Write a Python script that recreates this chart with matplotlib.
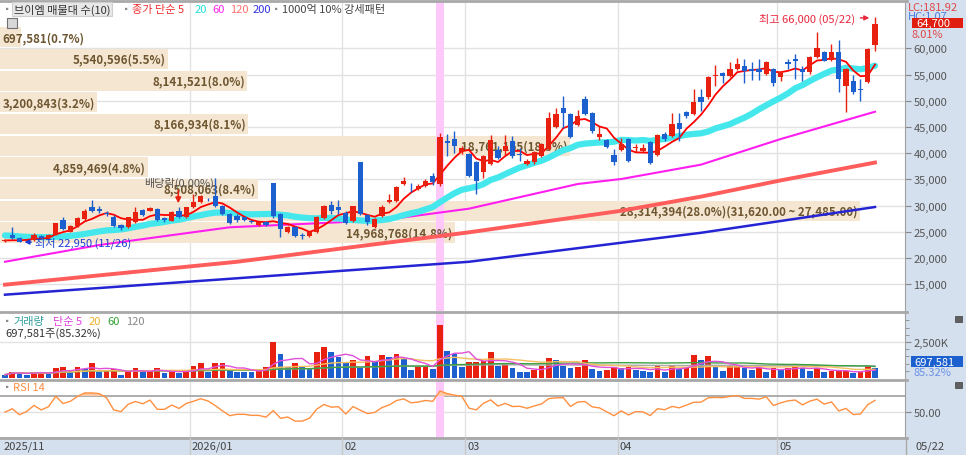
import numpy as np
import pandas as pd
import matplotlib
matplotlib.use('Agg')
import matplotlib.pyplot as plt
from matplotlib.patches import Rectangle
from matplotlib.lines import Line2D

plt.rcParams['font.family'] = ['Noto Sans CJK KR', 'DejaVu Sans']

W, H = 966, 456

# ---- data -------------------------------------------------------------
month_start = [0, 26, 47, 64, 85, 107]
month_labels = ['2025/11', '2026/01', '02', '03', '04', '05']
last_label = '05/22'

opens = [23200, 24300, 23850, 23200, 23350, 24200, 23800, 24450, 27250, 25000,
         26050, 27450, 29650, 29300, 28500, 27900, 26300, 25850, 26800, 29200,
         29000, 29350, 27650, 27100, 29050, 27750, 29650, 30750, 31300, 31750,
         29950, 28300, 28000, 27750, 27100, 26300, 26800, 34250, 28400, 24900,
         25850, 24400, 24150, 24900, 27550, 30100, 29650, 28500, 27100, 38250,
         28200, 25950, 28050, 30750, 30900, 34100, 33400, 33100, 33800, 35600,
         34100, 42400, 42700, 40150, 39800, 38250, 36450, 37900, 40650, 40450,
         42350, 39900, 37900, 38250, 39400, 40800, 44950, 48550, 47450, 45400,
         50300, 47600, 43000, 42550, 39650, 40600, 42700, 40900, 40500, 42050,
         39650, 43650, 43350, 45750, 47800, 47450, 50750, 50650, 54650, 55300,
         54750, 56050, 56700, 56050, 56050, 55100, 56050, 54450, 57300, 57900,
         56050, 55550, 58300, 59350, 57800, 59350, 52750, 53800, 52200, 53500,
         60650]
highs = [23600, 25850, 24000, 23700, 24700, 24400, 24500, 26700, 27800, 26300,
         27800, 29300, 31050, 30000, 29000, 28200, 26500, 27900, 29700, 29400,
         29700, 29500, 27900, 28900, 29700, 29800, 32200, 32000, 31500, 35200,
         30100, 28500, 28300, 27900, 27300, 27000, 27000, 34300, 28600, 26000,
         26000, 24800, 25200, 28000, 30100, 30850, 31100, 28900, 30000, 38300,
         28400, 27700, 30100, 32200, 33800, 35400, 34300, 34100, 35000, 36200,
         43850, 43700, 44300, 41300, 40000, 38500, 39700, 43450, 41400, 43500,
         43300, 41000, 38800, 40500, 42000, 47800, 48700, 50950, 47700, 48300,
         50950, 47800, 45200, 42700, 40700, 42900, 42900, 41800, 41800, 42300,
         43700, 44000, 47700, 47600, 48100, 52200, 52200, 54800, 56800, 55500,
         57300, 58100, 57900, 57300, 57900, 57600, 56300, 55600, 57900, 59000,
         56700, 58600, 63150, 59500, 60800, 61500, 56300, 55000, 54100, 60000,
         66000]
lows = [23000, 23600, 22950, 23100, 23200, 23600, 23700, 24300, 25300, 24900,
        25900, 27300, 28800, 28600, 28000, 25900, 25400, 25700, 26600, 28000,
        28900, 27100, 26900, 27000, 27600, 27600, 29500, 30500, 30900, 29800,
        28200, 26500, 26900, 27000, 26600, 26100, 26000, 27700, 23950, 24700,
        24000, 23600, 24000, 24700, 27400, 28300, 28300, 26500, 26900, 28100,
        26300, 25800, 27900, 30500, 30700, 33900, 32500, 32900, 33600, 33900,
        33700, 39500, 40000, 39900, 35500, 32200, 35300, 37700, 38800, 39700,
        39100, 38500, 37700, 38000, 39200, 40600, 44700, 44800, 42800, 45200,
        47300, 43900, 42500, 40900, 37800, 40400, 38300, 40200, 40200, 37900,
        39400, 42400, 43100, 42400, 46700, 47200, 48100, 50400, 52850, 53400,
        54500, 55800, 53400, 54000, 53900, 54900, 52750, 53800, 56000, 54200,
        53700, 55100, 58100, 57600, 57600, 51600, 47800, 51200, 49900, 53400,
        59550]
closes = [23400, 23800, 23100, 23500, 24350, 23800, 24300, 26600, 25550, 26100,
          27600, 29000, 29000, 28900, 28300, 26050, 25650, 27750, 28700, 28200,
          29550, 27250, 27250, 28700, 27800, 29650, 30600, 31750, 31200, 30000,
          28400, 26700, 27150, 27150, 26800, 26800, 26250, 28050, 25500, 25850,
          24250, 24250, 25000, 27900, 29850, 29000, 29200, 26650, 29850, 28400,
          26950, 27450, 29650, 31000, 33600, 34750, 33300, 33800, 34750, 34450,
          43000, 42000, 41400, 41000, 35700, 34750, 39500, 42550, 39000, 41400,
          39500, 39700, 38550, 40250, 41750, 46650, 47450, 47650, 43000, 47000,
          47450, 44300, 43650, 41100, 38250, 41750, 38550, 41100, 40900, 38100,
          43450, 42700, 45550, 44600, 47000, 49700, 49800, 54450, 54900, 54800,
          56050, 57000, 55700, 55700, 55400, 57300, 53400, 55400, 57000, 57650,
          55400, 58300, 60000, 57600, 59350, 54150, 56050, 51700, 52100, 59900,
          64700]
# closes before the visible window (needed for the moving averages / RSI)
prior_close = [25300, 25600, 25100, 24800, 24300, 24600, 24900, 24200, 23900, 24500,
               24800, 24300, 24100, 24400, 24600, 23500, 23200, 23100, 23400]

volume_m = [0.23, 0.44, 0.39, 0.23, 0.39, 0.41, 0.32, 0.67, 0.74, 0.39,
            0.79, 0.62, 1.04, 0.39, 0.51, 0.62, 0.23, 0.51, 0.67, 0.44,
            0.46, 0.67, 0.32, 0.44, 0.32, 0.51, 0.86, 1.04, 0.44, 1.04,
            1.06, 0.50, 0.44, 0.43, 0.42, 0.62, 0.79, 2.48, 1.67, 0.74,
            1.04, 0.86, 0.62, 1.78, 2.13, 1.78, 1.48, 1.09, 1.25, 0.67,
            1.55, 1.09, 1.60, 1.44, 1.67, 1.32, 0.56, 0.74, 0.76, 0.62,
            3.70, 1.85, 1.67, 0.79, 1.13, 1.14, 1.16, 1.78, 0.86, 1.04,
            0.67, 0.44, 0.39, 0.58, 0.81, 1.37, 1.23, 0.81, 0.67, 0.74,
            1.25, 0.62, 0.51, 0.56, 0.74, 0.67, 0.79, 0.56, 0.51, 0.39,
            0.90, 0.39, 0.90, 0.62, 0.67, 1.60, 1.25, 1.53, 0.74, 0.51,
            0.86, 0.88, 0.67, 0.56, 0.67, 0.44, 0.67, 0.56, 0.72, 0.86,
            0.67, 0.51, 0.67, 0.44, 0.46, 0.48, 0.50, 0.32, 0.39, 0.8176,
            0.697581]

# long moving averages (index, value)
ma60_idx = [0, 13, 31, 46, 54, 64, 79, 85, 96, 107, 120]
ma60_val = [19270, 22470, 25850, 26800, 27560, 29400, 34110, 35060, 37800, 42690, 47900]
ma120_idx = [0, 32, 64, 85, 96, 107, 120]
ma120_val = [14900, 19270, 24890, 29000, 31700, 34800, 38200]
ma200_idx = [0, 32, 64, 85, 96, 107, 120]
ma200_val = [12990, 16120, 19270, 22900, 24800, 27050, 29720]

# volume profile (매물대), top band first
band_lo = [60565, 56430, 52295, 48160, 44025, 39890, 35755, 31620, 27485, 23350]
band_step = 4135
band_vol = [697581, 5540596, 8141521, 3200843, 8166934, 18761165, 4859469, 8508063,
            28314394, 14968768]
band_pct = [0.7, 5.5, 8.0, 3.2, 8.1, 18.5, 4.8, 8.4, 28.0, 14.8]

low_idx, low_val, low_date = 2, 22950, '11/26'
high_idx, high_val, high_date = 120, 66000, '05/22'
exdiv_idx = 24
signal_idx = 60

# ---- helpers ----------------------------------------------------------
def rect(x0, y0, x1, y1):
    return [x0 / W, 1 - y1 / H, (x1 - x0) / W, (y1 - y0) / H]

def ftext(x, y, s, **kw):
    ha = kw.pop('ha', 'left')
    return fig.text(x / W, 1 - y / H, s, ha=ha, va='center', **kw)

def fline(x0, y0, x1, y1, **kw):
    fig.add_artist(Line2D([x0 / W, x1 / W], [1 - y0 / H, 1 - y1 / H],
                          transform=fig.transFigure, **kw))

RED = '#e8200f'
BLUE = '#1c5fce'
GRID = '#e2e2e2'
STRIP = '#d5e0ee'

n = len(closes)
x = np.arange(n)
o = np.array(opens); c = np.array(closes)
hi = np.array(highs); lo = np.array(lows)
up = c >= o
XL = (-0.69, 124.14)
bounds = [m - 0.5 for m in month_start[1:]]

allc = pd.Series(prior_close + closes, dtype=float)
ma5 = allc.rolling(5).mean().values[-n:]
ma20 = allc.rolling(20).mean().values[-n:]
d = allc.diff()
g = d.clip(lower=0).ewm(alpha=1 / 14, adjust=False).mean()
l = (-d.clip(upper=0)).ewm(alpha=1 / 14, adjust=False).mean()
rsi = (100 - 100 / (1 + g / l)).values[-n:]

vol = np.array(volume_m) * 1e6
vs = pd.Series(vol)
vol_up = np.r_[False, vol[1:] > vol[:-1]]

fig = plt.figure(figsize=(W / 100, H / 100), dpi=100)
fig.patch.set_facecolor('white')
fig.add_artist(Rectangle((905 / W, 0), 61 / W, 1, transform=fig.transFigure,
                         facecolor=STRIP, edgecolor='none', zorder=0))
fig.add_artist(Rectangle((0, 0), 1, 18 / H, transform=fig.transFigure,
                         facecolor=STRIP, edgecolor='none', zorder=0))

def style(ax):
    ax.set_xlim(*XL)
    ax.set_facecolor('white')
    for s in ['top', 'left', 'bottom']:
        ax.spines[s].set_visible(False)
    ax.spines['right'].set_color('#a0a0a0')
    ax.yaxis.tick_right()
    ax.set_xticks([])
    ax.tick_params(axis='y', direction='out', length=4, width=0.8, pad=2,
                   labelsize=8, labelcolor='#555555', color='#888888')
    for b in bounds:
        ax.axvline(b, color=GRID, lw=1, zorder=0)
    ax.axvspan(signal_idx - 0.55, signal_idx + 0.55, color='#ffc8fa', lw=0, zorder=1.2)

# ---- price panel ------------------------------------------------------
ax = fig.add_axes(rect(0, 2, 905, 312))
style(ax)
ax.set_ylim(9877, 69025)
ticks = list(range(15000, 60001, 5000))
ax.set_yticks(ticks)
ax.set_yticklabels([f'{t:,}' for t in ticks])
for t in ticks:
    ax.axhline(t, color=GRID, lw=1, zorder=0)

full_w = 860 / 7.25
vmax = max(band_vol)
for blo, bv, bp in zip(band_lo, band_vol, band_pct):
    cy = blo + band_step / 2 - 550
    w = bv / vmax * full_w
    ax.barh(cy, w, left=XL[0], height=band_step * 0.93, color='#f5e6d2', lw=0, zorder=1)
    txt = f'{bv:,}({bp:.1f}%)'
    if bv == vmax:
        txt += f'({blo + band_step:,.2f} ~ {blo:,.2f})'
    if w > 6:
        ax.text(XL[0] + w - 0.3, cy, txt, ha='right', va='center', fontsize=8.3,
                color='#6e5630', fontweight='bold', zorder=1.5)
    else:
        ax.text(XL[0] + 0.3, cy, txt, ha='left', va='center', fontsize=8.3,
                color='#6e5630', fontweight='bold', zorder=1.5)

ax.plot(ma200_idx, ma200_val, color='#2424d4', lw=1.8, zorder=2)
ax.plot(ma120_idx, ma120_val, color='#ff5c5c', lw=2.8, zorder=2)
ax.plot(ma60_idx, ma60_val, color='#ff1ef0', lw=1.5, zorder=2)
ax.plot(x, ma20, color='#44e8ec', lw=4.5, zorder=2.5, solid_capstyle='round')
ax.plot(x, ma5, color='#ff0000', lw=1.3, zorder=3)

cols = np.where(up, RED, BLUE)
ax.vlines(x, lo, hi, colors=cols, lw=1, zorder=4)
body = np.maximum(np.abs(c - o), 120)
ax.bar(x, body, bottom=np.minimum(o, c), width=0.72, color=cols, lw=0, zorder=4)

# annotations
ax.annotate('', xy=(low_idx + 0.3, low_val + 80), xytext=(4.0, low_val + 80),
            arrowprops=dict(arrowstyle='-|>', color='#1a3fd0', lw=1, mutation_scale=7),
            zorder=5)
ax.text(4.1, low_val + 80, f'최저 {low_val:,} ({low_date})', color='#1a3fd0',
        fontsize=8, va='center', zorder=5)
ax.text(117.3, high_val - 200, f'최고 {high_val:,} ({high_date})', color='#e8283c',
        fontsize=8, va='center', ha='right', zorder=5)
ax.annotate('', xy=(119.6, high_val - 200), xytext=(117.6, high_val - 200),
            arrowprops=dict(arrowstyle='-|>', color='#e8283c', lw=1, mutation_scale=7),
            zorder=5)
ax.text(19.2, 34500, '배당락(0.00%)', color='#555555', fontsize=8, va='center', zorder=5)
ax.annotate('', xy=(exdiv_idx - 0.1, hi[exdiv_idx] + 200), xytext=(exdiv_idx - 0.1, 33400),
            arrowprops=dict(arrowstyle='-|>', color='#e8200f', lw=1.2, mutation_scale=8),
            zorder=5)

# ---- volume panel -----------------------------------------------------
axv = fig.add_axes(rect(0, 314, 905, 380))
style(axv)
axv.set_ylim(-0.069e6, 4.514e6)
axv.axhline(2.5e6, color=GRID, lw=1, zorder=0)
axv.set_yticks([2.5e6])
axv.set_yticklabels(['2,500K'])
axv.set_yticks(np.arange(0.5e6, 4.01e6, 0.5e6), minor=True)
axv.tick_params(axis='y', which='minor', direction='out', length=3, color='#888888')
axv.bar(x, vol, width=0.78, color=np.where(vol_up, RED, BLUE), lw=0, zorder=3)
axv.plot(x, vs.rolling(120, min_periods=1).mean(), color='#aaaaaa', lw=1, zorder=4)
axv.plot(x, vs.rolling(60, min_periods=1).mean(), color='#3aa040', lw=1, zorder=4)
axv.plot(x, vs.rolling(20, min_periods=1).mean(), color='#f5c060', lw=1, zorder=4)
axv.plot(x, vs.rolling(5, min_periods=1).mean(), color='#e050d8', lw=1, zorder=4)

# ---- RSI panel --------------------------------------------------------
axr = fig.add_axes(rect(0, 381, 905, 438))
style(axr)
axr.set_ylim(19.7, 89.6)
axr.axhline(70, color='#a0a0a0', lw=1.2, zorder=1)
axr.axhline(50, color=GRID, lw=1, zorder=0)
axr.set_yticks([50])
axr.set_yticklabels(['50.00'])
axr.fill_between(x, rsi, 70, where=rsi > 70, interpolate=True, color='#ffc9a6', lw=0, zorder=2)
axr.plot(x, rsi, color='#ff9040', lw=1, zorder=3)

# ---- frame lines & bottom axis ----------------------------------------
for yy in [1.5, 313, 380.5, 438.5]:
    fline(0, yy, 907, yy, color='#a8a8a8', lw=2)
for b in bounds:
    px = 5 + 7.25 * b
    fline(px, 439, px, 456, color='#c8c8c8', lw=1)
fline(906, 439, 906, 456, color='#a8a8a8', lw=1)
for m, lab in zip(month_start, month_labels):
    px = 5 + 7.25 * (m - 0.5)
    ftext(max(px, 0) + 2, 447, lab, fontsize=8, color='#444444')
ftext(915, 447, last_label, fontsize=8, color='#444444')

# ---- headers ----------------------------------------------------------
sq = dict(fontsize=6, color='#8a8a8a')
ftext(3, 10, '▪', **sq)
ftext(14, 10, '브이엠 매물대 수(10)', fontsize=8, color='#333333',
      bbox=dict(boxstyle='square,pad=0.15', facecolor='#e8e8e8', edgecolor='#cfcfcf', lw=0.8))
ftext(122, 10, '▪', **sq)
ftext(132, 10, '종가 단순 5', fontsize=8, color='#f03030')
ftext(195, 10, '20', fontsize=8, color='#20dede')
ftext(212, 10, '60', fontsize=8, color='#ff22ee')
ftext(230, 10, '120', fontsize=8, color='#ff7070')
ftext(253, 10, '200', fontsize=8, color='#3030e0')
ftext(272, 10, '▪', **sq)
ftext(282, 10, '1000억 10% 강세패턴', fontsize=8, color='#444444')
fig.add_artist(Rectangle((7 / W, 1 - 29 / H), 10 / W, 10 / H, transform=fig.transFigure,
                         facecolor='#d8d8d8', edgecolor='#707070', lw=0.8, zorder=6))

ftext(3, 322, '▪', **sq)
ftext(13, 322, '거래량', fontsize=8, color='#2f9d9d')
ftext(53, 322, '단순 5', fontsize=8, color='#e040e0')
ftext(89, 322, '20', fontsize=8, color='#f0b030')
ftext(107, 322, '60', fontsize=8, color='#30a030')
ftext(126, 322, '120', fontsize=8, color='#888888')
ftext(5, 334, f'{int(vol[-1]):,}주({vol[-1] / vol[-2] * 100:.2f}%)', fontsize=8, color='#333333')

ftext(3, 388, '▪', **sq)
ftext(13, 388, 'RSI 14', fontsize=8, color='#ff8c40')

# ---- right strip labels ----------------------------------------------
ftext(908, 8, 'LC:181.92', fontsize=8, color='#e04848')
ftext(908, 17, 'HC:1.07', fontsize=8, color='#4a7ee0')
fig.add_artist(Rectangle((912 / W, 1 - 28.5 / H), 51 / W, 9.5 / H, transform=fig.transFigure,
                         facecolor='#e01e10', edgecolor='none', zorder=6))
ftext(916, 23.5, f'{closes[-1]:,}', fontsize=8, color='white', zorder=7)
ftext(912, 35, f'{(closes[-1] / closes[-2] - 1) * 100:.2f}%', fontsize=8, color='#e04848')

fig.add_artist(Rectangle((911 / W, 1 - 368 / H), 52 / W, 11 / H, transform=fig.transFigure,
                         facecolor='#1c5fce', edgecolor='none', zorder=6))
ftext(914, 362.5, f'{int(vol[-1]):,}', fontsize=8, color='white', zorder=7)
ftext(914, 373, f'{vol[-1] / vol[-2] * 100:.2f}%', fontsize=8, color='#6a90e8')
for yy in [320, 386]:
    fig.add_artist(Rectangle((955 / W, 1 - (yy + 3) / H), 7 / W, 6 / H, transform=fig.transFigure,
                             facecolor='#606060', edgecolor='#404040', lw=0.5, zorder=6))

fig.savefig('out.png', dpi=100)
